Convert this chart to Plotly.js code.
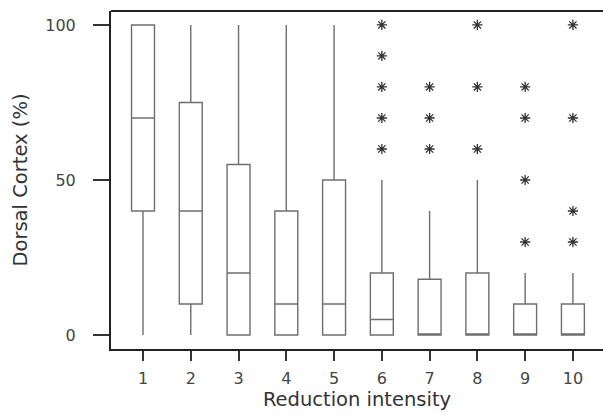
<!DOCTYPE html>
<html>
<head>
<meta charset="utf-8">
<script src="https://cdn.plot.ly/plotly-3.0.1.min.js"></script>
<style>html,body{margin:0;padding:0;background:#fff;}</style>
</head>
<body>
<div id="chart" style="width:603px;height:415px;"></div>
<script>
const categories = [1, 2, 3, 4, 5, 6, 7, 8, 9, 10];
const lowerWhisker = [0, 0, 0, 0, 0, 0, 0, 0, 0, 0];
const q1Values = [40, 10, 0, 0, 0, 0, 0, 0, 0, 0];
const medianValues = [70, 40, 20, 10, 10, 5, 0, 0, 0, 0];
const q3Values = [100, 75, 55, 40, 50, 20, 18, 20, 10, 10];
const upperWhisker = [100, 100, 100, 100, 100, 50, 40, 50, 20, 20];
const outlierX = [6, 6, 6, 6, 6, 7, 7, 7, 8, 8, 8, 9, 9, 9, 9, 10, 10, 10, 10];
const outlierY = [60, 70, 80, 90, 100, 60, 70, 80, 60, 80, 100, 30, 50, 70, 80, 30, 40, 70, 100];
const tickLabels = ["1", "2", "3", "4", "5", "6", "7", "8", "9", "10"];

const traces = [
  {
    type: 'box',
    x: categories,
    q1: q1Values,
    median: medianValues,
    q3: q3Values,
    lowerfence: lowerWhisker,
    upperfence: upperWhisker,
    boxpoints: false,
    width: 0.48,
    whiskerwidth: 0,
    fillcolor: 'rgba(255,255,255,0)',
    line: {color: '#6e6e6e', width: 1.4},
    hoverinfo: 'skip',
    showlegend: false
  },
  {
    type: 'scatter',
    mode: 'markers',
    x: outlierX,
    y: outlierY,
    marker: {symbol: 'asterisk-open', size: 8.5, color: '#333', line: {color: '#333', width: 1.3}},
    hoverinfo: 'skip',
    showlegend: false
  }
];

const layout = {
  width: 603,
  height: 415,
  margin: {l: 111, r: 0, t: 11, b: 66},
  paper_bgcolor: '#fff',
  plot_bgcolor: '#fff',
  font: {family: 'DejaVu Sans, Arial, sans-serif', color: '#444'},
  xaxis: {
    range: [0.33, 10.63],
    tickvals: categories,
    ticktext: tickLabels,
    ticks: 'outside',
    ticklen: 10,
    tickwidth: 2,
    tickcolor: '#333',
    ticklabelstandoff: 4,
    showline: true,
    linecolor: '#222',
    linewidth: 2,
    showgrid: false,
    zeroline: false,
    tickfont: {size: 16, color: '#444'},
    title: {text: 'Reduction intensity', font: {size: 19.5, color: '#333'}, standoff: 2}
  },
  yaxis: {
    range: [-4.5, 104.5],
    tickvals: [0, 50, 100],
    ticks: 'outside',
    ticklen: 16,
    tickwidth: 2,
    tickcolor: '#333',
    ticklabelstandoff: 14,
    showline: true,
    linecolor: '#222',
    linewidth: 2,
    showgrid: false,
    zeroline: false,
    tickfont: {size: 16, color: '#444'},
    title: {text: 'Dorsal Cortex (%)', font: {size: 19.5, color: '#333'}, standoff: 12}
  },
  shapes: [
    {type: 'line', xref: 'paper', yref: 'paper', x0: 0, x1: 1, y0: 1, y1: 1, line: {color: '#222', width: 2}}
  ]
};

Plotly.newPlot('chart', traces, layout, {displayModeBar: false, staticPlot: true});
</script>
</body>
</html>
